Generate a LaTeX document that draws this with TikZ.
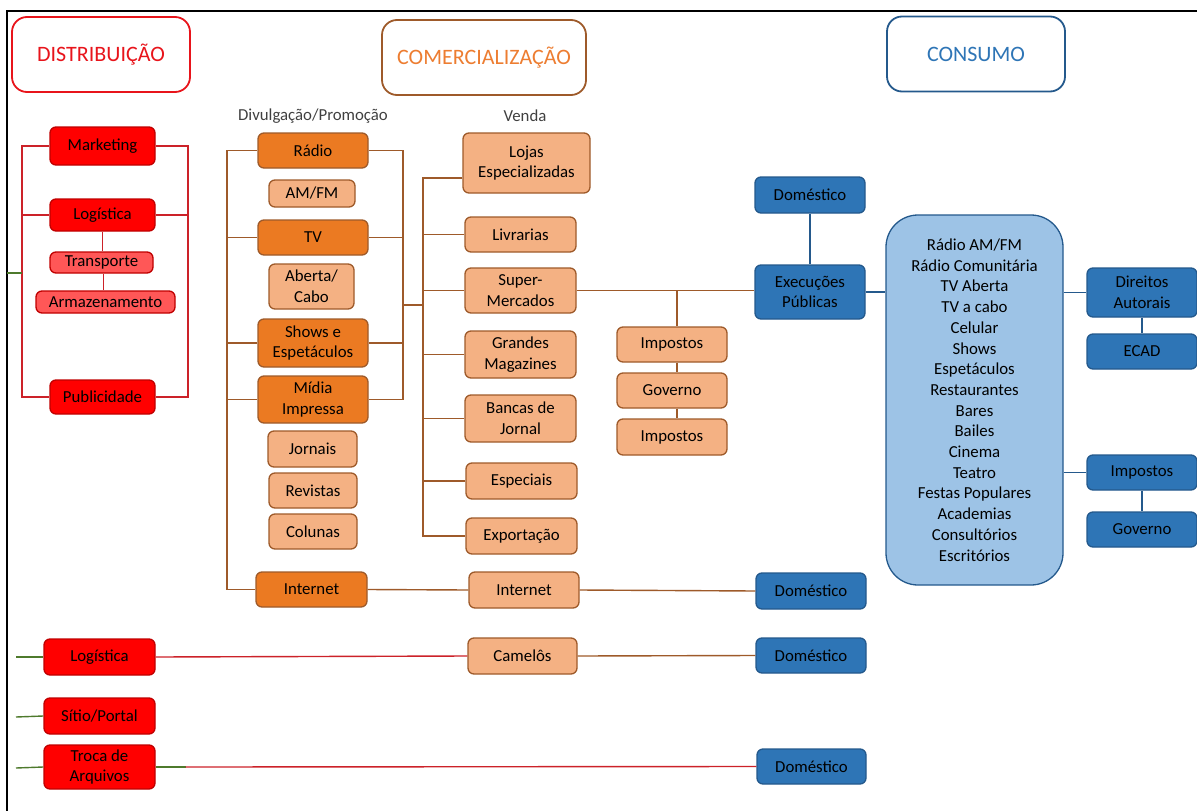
\documentclass[tikz,border=0pt]{standalone}
\usepackage{fontspec}
\setmainfont{Carlito}
\usetikzlibrary{calc}
\definecolor{redfill}{HTML}{FF0000}
\definecolor{redbord}{HTML}{C00000}
\definecolor{lredfill}{HTML}{FF5757}
\definecolor{orfill}{HTML}{EB7A22}
\definecolor{lorfill}{HTML}{F4B183}
\definecolor{brown}{HTML}{9E5A2A}
\definecolor{bluefill}{HTML}{2E75B6}
\definecolor{bluebord}{HTML}{24598C}
\definecolor{lbluefill}{HTML}{9DC3E6}
\definecolor{redline}{HTML}{CC2229}
\definecolor{greenline}{HTML}{4E7A2C}
\definecolor{hdred}{HTML}{E8141B}
\definecolor{hdorange}{HTML}{ED7D31}
\definecolor{hdblue}{HTML}{2E75B6}
\definecolor{graytext}{HTML}{404040}
\newcommand{\bodyfont}{\fontsize{16.8}{20.7}\selectfont}
\newcommand{\headfont}{\fontsize{22}{26}\selectfont}
\tikzset{
  bx/.style={draw, rounded corners=6pt, line width=1.3pt, align=center, inner sep=0pt, font=\bodyfont, text=black},
  redbox/.style={bx, fill=redfill, draw=redbord},
  lredbox/.style={bx, fill=lredfill, draw=redbord},
  orbox/.style={bx, fill=orfill, draw=brown},
  lorbox/.style={bx, fill=lorfill, draw=brown},
  bluebox/.style={bx, fill=bluefill, draw=bluebord},
  hdbox/.style={draw, rounded corners=15pt, line width=1.8pt, fill=white, align=center, font=\headfont, minimum width=178pt, minimum height=75pt, inner sep=0pt},
  rl/.style={draw=redline, line width=1.4pt},
  gl/.style={draw=greenline, line width=1.4pt},
  bl/.style={draw=brown, line width=1.4pt},
  ul/.style={draw=bluebord, line width=1.4pt},
}
\begin{document}
\begin{tikzpicture}[x=1pt,y=-1pt]
\useasboundingbox (0,0) rectangle (1197,811);
\draw[line width=1.3pt, black] (7,811) -- (7,11) -- (1197,11);

% headers
\node[hdbox, draw=hdred, text=hdred] (hd1) at (101,54.5) {DISTRIBUIÇÃO};
\node[hdbox, draw=brown, text=hdorange, minimum width=204pt] (hd2) at (484,57.5) {COMERCIALIZAÇÃO};
\node[hdbox, draw=bluebord, text=hdblue] (hd3) at (976,54) {CONSUMO};
\node[font=\bodyfont, text=graytext, inner sep=0pt] (lbl1) at (313,116) {Divulgação/Promoção};
\node[font=\bodyfont, text=graytext, inner sep=0pt] (lbl2) at (525,116) {Venda};

% distribution
\node[redbox, minimum width=105pt, minimum height=38pt] (mk) at (102.5,146) {Marketing};
\node[redbox, minimum width=105pt, minimum height=32pt] (lg1) at (102.5,215) {Logística};
\node[lredbox, minimum width=103pt, minimum height=21pt] (tr) at (101.5,262.5) {Transporte};
\node[lredbox, minimum width=139pt, minimum height=22pt] (ar) at (105.5,302) {Armazenamento};
\node[redbox, minimum width=105pt, minimum height=34pt] (pub) at (102.5,397) {Publicidade};
\node[redbox, minimum width=111pt, minimum height=36pt] (lg2) at (99.5,657) {Logística};
\node[redbox, minimum width=111pt, minimum height=36pt] (sp) at (99.5,716) {Sítio/Portal};
\node[redbox, minimum width=111pt, minimum height=44pt] (tq) at (99.5,767) {Troca de\\Arquivos};

% divulgacao
\node[orbox, minimum width=110pt, minimum height=35pt] (rad) at (313,150.5) {Rádio};
\node[lorbox, minimum width=86pt, minimum height=27pt] (amfm) at (312,193.5) {AM/FM};
\node[orbox, minimum width=110pt, minimum height=35pt] (tv) at (313,237.5) {TV};
\node[lorbox, minimum width=85pt, minimum height=45pt] (ab) at (311.5,286.5) {Aberta/\\Cabo};
\node[orbox, minimum width=110pt, minimum height=48pt] (sh) at (313,343) {Shows e\\Espetáculos};
\node[orbox, minimum width=110pt, minimum height=47pt] (mi) at (313,399.5) {Mídia\\Impressa};
\node[lorbox, minimum width=89pt, minimum height=36pt] (jo) at (312.5,449) {Jornais};
\node[lorbox, minimum width=88pt, minimum height=35pt] (rev) at (313,490.5) {Revistas};
\node[lorbox, minimum width=88pt, minimum height=35pt] (col) at (313,531.5) {Colunas};
\node[orbox, minimum width=111pt, minimum height=35pt] (int1) at (311.5,589.5) {Internet};

% venda
\node[lorbox, minimum width=127pt, minimum height=60pt] (lo) at (526.5,163) {Lojas\\Especializadas};
\node[lorbox, minimum width=111pt, minimum height=35pt] (li) at (520.5,234.5) {Livrarias};
\node[lorbox, minimum width=111pt, minimum height=45pt] (su) at (520.5,290.5) {Super-\\Mercados};
\node[lorbox, minimum width=111pt, minimum height=47pt] (gm) at (520.5,354.5) {Grandes\\Magazines};
\node[lorbox, minimum width=111pt, minimum height=47pt] (bj) at (520.5,418.5) {Bancas de\\Jornal};
\node[lorbox, minimum width=111pt, minimum height=36pt] (es) at (521.5,481) {Especiais};
\node[lorbox, minimum width=111pt, minimum height=36pt] (ex) at (521.5,536) {Exportação};
\node[lorbox, minimum width=110pt, minimum height=36pt] (int2) at (524,590) {Internet};
\node[lorbox, minimum width=109pt, minimum height=36pt] (ca) at (522.5,656) {Camelôs};

% taxes
\node[lorbox, minimum width=110pt, minimum height=35pt] (im1) at (672,344.5) {Impostos};
\node[lorbox, minimum width=110pt, minimum height=35pt] (gv1) at (672,390.5) {Governo};
\node[lorbox, minimum width=110pt, minimum height=36pt] (im2) at (672,437) {Impostos};

% consumo
\node[bluebox, minimum width=110pt, minimum height=36pt] (d1) at (810,195) {Doméstico};
\node[bluebox, minimum width=110pt, minimum height=54pt] (ep) at (810,292) {Execuções\\Públicas};
\node[bx, fill=lbluefill, draw=bluebord, rounded corners=32pt, minimum width=177pt, minimum height=370pt] (big) at (974.5,400) {Rádio AM/FM\\Rádio Comunitária\\TV Aberta\\TV a cabo\\Celular\\Shows\\Espetáculos\\Restaurantes\\Bares\\Bailes\\Cinema\\Teatro\\Festas Populares\\Academias\\Consultórios\\Escritórios};
\node[bluebox, minimum width=110pt, minimum height=49pt] (da) at (1142,292.5) {Direitos\\Autorais};
\node[bluebox, minimum width=110pt, minimum height=35pt] (ecad) at (1142,351.5) {ECAD};
\node[bluebox, minimum width=110pt, minimum height=35pt] (im3) at (1142,472.5) {Impostos};
\node[bluebox, minimum width=110pt, minimum height=35pt] (gv3) at (1142,529.5) {Governo};
\node[bluebox, minimum width=110pt, minimum height=36pt] (d2) at (811,591) {Doméstico};
\node[bluebox, minimum width=110pt, minimum height=35pt] (d3) at (811,655.5) {Doméstico};
\node[bluebox, minimum width=109pt, minimum height=35pt] (d4) at (811.5,766.5) {Doméstico};

% coordinates
\coordinate (dL) at (22,0);
\coordinate (dR) at (188,0);
\coordinate (oL) at (227,0);
\coordinate (oR) at (403,0);
\coordinate (vL) at (423,0);
\coordinate (tx) at (677,0);
\coordinate (g0) at (7,273);
\coordinate (g1) at (16,657);
\coordinate (g2) at (16,717);
\coordinate (g3) at (16,768);
\coordinate (mid) at (403,305);

% distribution connectors
\draw[rl] (mk.west) -- (mk.west -| dL) -- (pub.west -| dL) -- (pub.west);
\draw[rl] (lg1.west) -- (lg1.west -| dL);
\draw[rl] (mk.east) -- (mk.east -| dR) -- (pub.east -| dR) -- (pub.east);
\draw[rl] (lg1.east) -- (lg1.east -| dR);
\draw[rl] (lg1.south) -- (lg1.south |- tr.north);
\draw[rl] ([xshift=2pt]tr.south) -- ([xshift=2pt]tr.south |- ar.north);
\draw[gl] (g0) -- (g0 -| dL);
\draw[gl] (g1) -- (lg2.west);
\draw[gl] (g2) -- (sp.west);
\draw[gl] (g3) -- (tq.west);
\draw[gl] (tq.east) -- ++(30,0) coordinate (tqm);
\draw[rl] (tqm) -- (d4.west);
\draw[rl] (lg2.east) -- (ca.west);

% divulgacao connectors
\draw[bl] (rad.west) -- (rad.west -| oL) -- (int1.west -| oL) -- (int1.west);
\draw[bl] (tv.west) -- (tv.west -| oL);
\draw[bl] (sh.west) -- (sh.west -| oL);
\draw[bl] (mi.west) -- (mi.west -| oL);
\draw[bl] (rad.east) -- (rad.east -| oR) -- (mi.east -| oR) -- (mi.east);
\draw[bl] (tv.east) -- (tv.east -| oR);
\draw[bl] (sh.east) -- (sh.east -| oR);
\draw[bl] (mid) -- (mid -| vL);
\draw[bl] (int1.east) -- (int2.west);

% venda connectors
\draw[bl] ([yshift=-15pt]lo.west) -- ([yshift=-15pt]lo.west -| vL) -- (ex.west -| vL) -- (ex.west);
\draw[bl] (li.west) -- (li.west -| vL);
\draw[bl] (su.west) -- (su.west -| vL);
\draw[bl] (gm.west) -- (gm.west -| vL);
\draw[bl] (bj.west) -- (bj.west -| vL);
\draw[bl] (es.west) -- (es.west -| vL);
\draw[bl] (su.east) -- (su.east -| ep.west);
\draw[bl] (su.east -| tx) -- (im1.north -| tx);
\draw[bl] (im1.south -| tx) -- (gv1.north -| tx);
\draw[bl] (gv1.south -| tx) -- (im2.north -| tx);
\draw[bl] (int2.east) -- (d2.west);
\draw[bl] (ca.east) -- (d3.west);

% consumo connectors
\draw[ul] (d1.south) -- (ep.north);
\draw[ul] (ep.east) -- (ep.east -| big.west);
\draw[ul] (da.west -| big.east) -- (da.west);
\draw[ul] (da.south) -- (ecad.north);
\draw[ul] (im3.west -| big.east) -- (im3.west);
\draw[ul] (im3.south) -- (gv3.north);
\end{tikzpicture}
\end{document}
